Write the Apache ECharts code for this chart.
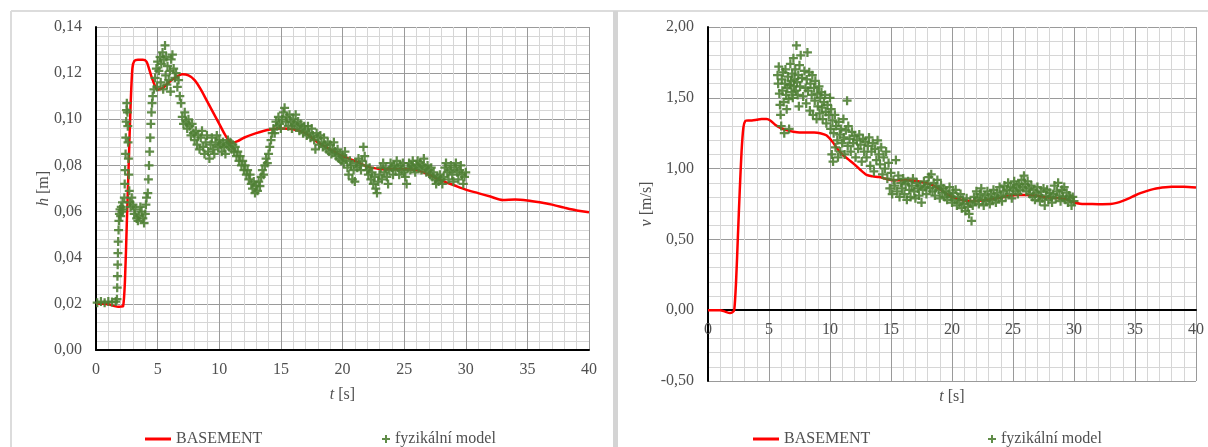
<!DOCTYPE html>
<html><head><meta charset="utf-8">
<script src="https://cdn.jsdelivr.net/npm/echarts@6/dist/echarts.min.js"></script>
<style>html,body{margin:0;padding:0;background:#fff}#c{width:1208px;height:447px}</style>
</head><body><div id="c"></div>
<script>
// ---- data: left chart (h) ----
const hModel = [[0,0.020],[0.5,0.020],[1.0,0.0198],[1.5,0.019],[1.8,0.0187],[2.0,0.0188],[2.2,0.019],[2.35,0.030],[2.5,0.055],[2.65,0.080],[2.8,0.105],[2.95,0.122],[3.1,0.1252],[3.4,0.1258],[3.8,0.1258],[4.1,0.125],[4.3,0.122],[4.6,0.117],[5.0,0.1128],[5.4,0.1135],[5.8,0.1155],[6.4,0.118],[7.0,0.1195],[7.5,0.119],[8.0,0.117],[8.5,0.113],[9.0,0.108],[9.5,0.103],[10.0,0.098],[10.5,0.093],[11.0,0.0898],[11.5,0.0905],[12.0,0.092],[13.0,0.094],[14.0,0.0955],[15.0,0.096],[16.0,0.0957],[17.0,0.094],[18.0,0.090],[19.0,0.087],[20.0,0.084],[21.0,0.082],[22.0,0.0795],[23.0,0.0785],[24.0,0.0783],[25.0,0.0783],[26.0,0.078],[27.0,0.076],[28.0,0.0735],[29.0,0.0715],[30.0,0.0695],[31.0,0.068],[32.0,0.0665],[33.0,0.065],[34.0,0.0652],[35.0,0.0648],[36.0,0.064],[37.0,0.063],[38.0,0.0617],[39.0,0.0605],[40.0,0.0597]];
const hObs = [[0.1,0.0205],[0.4,0.021],[0.7,0.0205],[1.0,0.021],[1.3,0.0208],[1.6,0.021],
[1.70,0.022],[1.72,0.027],[1.74,0.032],[1.76,0.037],[1.78,0.042],[1.80,0.047],[1.83,0.052],[1.86,0.056],[1.90,0.059],[1.95,0.061],[2.0,0.058],[2.05,0.062],[2.1,0.060],[2.15,0.064],[2.2,0.061],
[2.3,0.066],[2.33,0.072],[2.36,0.078],[2.4,0.085],[2.42,0.092],[2.45,0.099],[2.48,0.104],[2.5,0.107],[2.55,0.103],[2.58,0.097],[2.6,0.090],[2.63,0.083],[2.66,0.076],[2.7,0.069],[2.75,0.064],
[2.8,0.062],[2.9,0.066],[3.0,0.063],[3.1,0.059],[3.2,0.061],[3.3,0.057],[3.4,0.056],[3.5,0.058],[3.6,0.062],[3.7,0.060],[3.8,0.057],[3.9,0.055],[4.0,0.059],[4.05,0.063],[4.1,0.066],
[4.2,0.068],[4.25,0.074],[4.3,0.080],[4.35,0.086],[4.4,0.092],[4.45,0.098],[4.5,0.103],[4.55,0.107],[4.6,0.110],[4.7,0.113],
[4.8,0.118],[4.9,0.122],[5.0,0.125],[5.1,0.121],[5.2,0.127],[5.3,0.124],[5.4,0.129],[5.5,0.126],[5.6,0.132],[5.65,0.119],[5.7,0.127],[5.8,0.123],[5.9,0.117],[6.0,0.121],[6.1,0.126],[6.2,0.128],[6.3,0.122],[6.4,0.118],[6.5,0.120],[6.6,0.114],[6.7,0.117],[6.8,0.110],[6.9,0.107],[4.95,0.114],[5.25,0.116],[5.45,0.113],[5.75,0.115],[6.05,0.112],
[7.0,0.101],[7.1,0.098],[7.2,0.103],[7.3,0.099],[7.4,0.096],[7.5,0.100],[7.6,0.097],[7.7,0.093],[7.8,0.098],[7.9,0.094],[8.0,0.091],[8.1,0.095],[8.2,0.089],[8.3,0.093],[8.4,0.087],[8.5,0.092],[8.6,0.095],[8.7,0.088],[8.8,0.085],[8.9,0.090],[9.0,0.093],[9.1,0.086],[9.2,0.083],[9.3,0.089],[9.4,0.092],[9.5,0.087],[9.6,0.085],[9.7,0.090],[9.8,0.093],[9.9,0.088],[10.0,0.091],[10.1,0.089],[10.2,0.086],[10.3,0.090],[10.4,0.088],[10.5,0.085],[10.6,0.089],[10.7,0.091],[10.8,0.088],[10.9,0.090],[11.0,0.087],
[11.1,0.089],[11.2,0.086],[11.3,0.088],[11.4,0.084],[11.5,0.086],[11.6,0.082],[11.7,0.084],[11.8,0.080],[11.9,0.082],[12.0,0.078],[12.1,0.080],[12.2,0.076],[12.3,0.078],[12.4,0.074],[12.5,0.076],[12.6,0.072],[12.7,0.070],[12.8,0.073],[12.9,0.068],[13.0,0.071],[13.1,0.069],[13.2,0.073],[13.3,0.071],[13.4,0.075],[13.5,0.078],[13.6,0.076],[13.7,0.080],[13.8,0.083],[13.9,0.081],[14.0,0.085],[14.1,0.088],[14.2,0.091],[14.3,0.094],
[14.4,0.096],[14.5,0.094],[14.6,0.099],[14.7,0.097],[14.8,0.101],[14.9,0.098],[15.0,0.096],[15.1,0.100],[15.2,0.103],[15.3,0.105],[15.4,0.099],[15.5,0.101],[15.6,0.097],[15.7,0.102],[15.8,0.099],[15.9,0.096],[16.0,0.100],[16.1,0.098],[16.2,0.102],[16.3,0.097],[16.4,0.099],[16.5,0.095],[16.6,0.098],[16.7,0.096],[16.8,0.094],[16.9,0.097],[17.0,0.095],
[17.1,0.093],[17.2,0.097],[17.3,0.094],[17.4,0.092],[17.5,0.096],[17.6,0.093],[17.7,0.091],[17.8,0.087],[17.9,0.094],[18.0,0.092],[18.1,0.089],[18.2,0.093],[18.3,0.090],[18.4,0.088],[18.5,0.092],[18.6,0.089],[18.7,0.087],[18.8,0.090],[18.9,0.086],[19.0,0.089],[19.1,0.085],[19.2,0.087],[19.3,0.090],[19.4,0.086],[19.5,0.084],[19.6,0.087],[19.7,0.083],[19.8,0.085],[19.9,0.082],[20.0,0.084],
[20.1,0.081],[20.2,0.086],[20.3,0.083],[20.4,0.079],[20.5,0.076],[20.6,0.082],[20.7,0.080],[20.8,0.074],[20.9,0.078],[21.0,0.073],[21.1,0.081],[21.2,0.079],[21.3,0.083],[21.4,0.080],[21.5,0.078],[21.6,0.082],[21.7,0.088],[21.8,0.084],[21.9,0.080],[22.0,0.078],[22.1,0.076],[22.2,0.079],[22.3,0.074],[22.4,0.077],[22.5,0.072],[22.6,0.075],[22.7,0.070],[22.8,0.068],[22.9,0.073],[23.0,0.076],
[23.1,0.079],[23.2,0.074],[23.3,0.081],[23.4,0.077],[23.5,0.079],[23.6,0.075],[23.7,0.072],[23.8,0.078],[23.9,0.081],[24.0,0.079],[24.1,0.076],[24.2,0.080],[24.3,0.078],[24.4,0.082],[24.5,0.079],[24.6,0.076],[24.7,0.080],[24.8,0.078],[24.9,0.081],[25.0,0.077],[25.1,0.075],[25.2,0.072],[25.3,0.079],[25.4,0.081],[25.5,0.078],[25.6,0.080],[25.7,0.082],[25.8,0.079],[25.9,0.077],[26.0,0.080],[26.1,0.082],[26.2,0.079],[26.3,0.081],[26.4,0.078],[26.5,0.080],[26.6,0.083],[26.7,0.079],[26.8,0.077],[26.9,0.080],[27.0,0.078],
[27.1,0.076],[27.2,0.079],[27.3,0.075],[27.4,0.077],[27.5,0.074],[27.6,0.072],[27.7,0.075],[27.8,0.073],[27.9,0.076],[28.0,0.074],[28.1,0.072],[28.2,0.075],[28.3,0.079],[28.4,0.081],[28.5,0.077],[28.6,0.074],[28.7,0.078],[28.8,0.080],[28.9,0.076],[29.0,0.073],[29.1,0.079],[29.2,0.081],[29.3,0.077],[29.4,0.074],[29.5,0.078],[29.6,0.080],[29.7,0.076],[29.8,0.072],[29.9,0.075],[30.0,0.077]];

// ---- data: right chart (v) ----
const vModel = [[0,0],[0.5,0],[1.0,0],[1.4,-0.01],[1.8,-0.02],[2.0,-0.015],[2.15,0.0],[2.3,0.2],[2.45,0.52],[2.6,0.84],[2.75,1.12],[2.9,1.29],[3.05,1.335],[3.3,1.34],[3.6,1.34],[4.0,1.345],[4.4,1.35],[4.8,1.35],[5.1,1.34],[5.5,1.31],[6.0,1.285],[6.5,1.27],[7.0,1.26],[7.5,1.255],[8.0,1.255],[8.7,1.255],[9.2,1.25],[9.7,1.235],[10.2,1.19],[10.6,1.14],[11.0,1.10],[11.5,1.065],[12.0,1.03],[12.5,0.99],[13.0,0.955],[13.5,0.945],[14.0,0.94],[14.5,0.93],[15.0,0.92],[15.7,0.918],[16.3,0.918],[17.0,0.915],[17.5,0.905],[18.0,0.895],[18.5,0.88],[19.0,0.855],[19.5,0.825],[20.0,0.80],[20.5,0.785],[21.0,0.775],[21.5,0.772],[22.0,0.772],[22.5,0.775],[23.0,0.78],[23.5,0.788],[24.0,0.795],[24.5,0.805],[25.0,0.812],[25.5,0.813],[26.0,0.813],[26.5,0.812],[27.0,0.808],[27.5,0.80],[28.0,0.796],[28.5,0.793],[29.0,0.789],[29.5,0.78],[30.0,0.762],[30.5,0.752],[31.0,0.75],[32.0,0.749],[33.0,0.75],[33.5,0.758],[34.0,0.772],[34.5,0.79],[35.0,0.81],[35.5,0.828],[36.0,0.843],[36.5,0.855],[37.0,0.863],[37.5,0.868],[38.0,0.871],[39.0,0.871],[40.0,0.866]];
const vObs = [[5.7,1.66],[5.75,1.60],[5.8,1.72],[5.85,1.53],[5.9,1.45],[5.95,1.38],[6.0,1.30],[6.05,1.63],[6.1,1.55],[6.15,1.68],[6.2,1.47],[6.25,1.25],[6.3,1.60],[6.35,1.70],[6.4,1.52],[6.45,1.42],[6.5,1.57],[6.55,1.65],[6.6,1.49],[6.65,1.28],[6.7,1.59],[6.75,1.74],[6.8,1.62],[6.85,1.54],[6.9,1.67],[6.95,1.50],[7.0,1.78],[7.05,1.58],[7.1,1.63],[7.15,1.70],[7.2,1.55],[7.25,1.87],[7.3,1.61],[7.35,1.52],[7.4,1.66],[7.45,1.44],[7.5,1.73],[7.55,1.58],
[7.6,1.80],[7.7,1.64],[7.8,1.51],[7.9,1.69],[8.0,1.57],[8.05,1.46],[8.1,1.63],[8.15,1.82],[8.2,1.55],[8.3,1.68],[8.35,1.41],[8.4,1.60],[8.5,1.52],[8.55,1.66],[8.6,1.38],[8.7,1.57],[8.75,1.48],[8.8,1.62],[8.9,1.35],[8.95,1.53],[9.0,1.44],[9.1,1.58],[9.15,1.39],[9.2,1.50],[9.3,1.54],[9.35,1.43],[9.4,1.35],[9.5,1.47],[9.6,1.52],[9.65,1.40],[9.7,1.32],[9.8,1.45],[9.9,1.38],[10.0,1.50],[10.05,1.28],
[10.1,1.42],[10.15,1.10],[10.2,1.34],[10.25,1.05],[10.3,1.25],[10.4,1.38],[10.45,1.15],[10.5,1.30],[10.6,1.20],[10.65,1.08],[10.7,1.33],[10.8,1.24],[10.85,1.12],[10.9,1.28],[11.0,1.18],[11.1,1.35],[11.15,1.22],[11.2,1.10],[11.3,1.27],[11.4,1.48],[11.45,1.16],[11.5,1.30],[11.6,1.21],[11.7,1.12],[11.8,1.26],[11.9,1.18],[12.0,1.23],[12.1,1.08],[12.2,1.20],[12.3,1.14],[12.4,1.24],[12.5,1.17],[12.6,1.05],[12.7,1.21],[12.8,1.12],[12.9,1.19],[13.0,1.08],
[13.1,1.16],[13.2,1.22],[13.3,1.02],[13.4,1.12],[13.5,1.18],[13.6,0.98],[13.7,1.14],[13.8,1.06],[13.9,1.20],[14.0,1.10],[14.1,1.03],[14.2,1.15],[14.3,0.96],[14.4,1.08],[14.5,1.00],[14.6,1.12],[14.7,0.93],[14.8,1.04],[14.9,0.86],[15.0,0.97],[15.1,0.82],[15.2,0.92],[15.3,0.88],[15.4,1.06],[15.5,0.84],[15.6,0.95],[15.7,0.80],[15.8,0.90],[15.9,0.86],[16.0,0.93],
[16.1,0.82],[16.2,0.89],[16.3,0.78],[16.4,0.91],[16.5,0.85],[16.6,0.80],[16.7,0.88],[16.8,0.93],[16.9,0.84],[17.0,0.79],[17.1,0.90],[17.2,0.86],[17.3,0.81],[17.4,0.88],[17.5,0.76],[17.6,0.85],[17.7,0.91],[17.8,0.87],[17.9,0.82],[18.0,0.89],[18.1,0.94],[18.2,0.86],[18.3,0.96],[18.4,0.84],[18.5,0.90],[18.6,0.81],[18.7,0.87],[18.8,0.92],[18.9,0.85],[19.0,0.79],[19.1,0.88],[19.2,0.83],[19.3,0.86],[19.4,0.80],[19.5,0.84],[19.6,0.78],[19.7,0.82],[19.8,0.87],[19.9,0.80],[20.0,0.76],
[20.1,0.83],[20.2,0.78],[20.3,0.85],[20.4,0.74],[20.5,0.80],[20.6,0.76],[20.7,0.82],[20.8,0.72],[20.9,0.78],[21.0,0.75],[21.1,0.70],[21.2,0.79],[21.3,0.73],[21.4,0.68],[21.5,0.76],[21.6,0.63],[21.7,0.74],[21.8,0.80],[21.9,0.77],[22.0,0.84],[22.1,0.79],[22.2,0.75],[22.3,0.82],[22.4,0.86],[22.5,0.78],[22.6,0.74],[22.7,0.81],[22.8,0.77],[22.9,0.84],[23.0,0.79],
[23.1,0.75],[23.2,0.82],[23.3,0.78],[23.4,0.85],[23.5,0.80],[23.6,0.76],[23.7,0.83],[23.8,0.79],[23.9,0.87],[24.0,0.81],[24.1,0.77],[24.2,0.84],[24.3,0.88],[24.4,0.80],[24.5,0.85],[24.6,0.90],[24.7,0.82],[24.8,0.87],[24.9,0.79],[25.0,0.86],[25.1,0.91],[25.2,0.84],[25.3,0.88],[25.4,0.82],[25.5,0.89],[25.6,0.85],[25.7,0.92],[25.8,0.87],[25.9,0.95],[26.0,0.89],
[26.1,0.84],[26.2,0.91],[26.3,0.86],[26.4,0.82],[26.5,0.88],[26.6,0.80],[26.7,0.85],[26.8,0.78],[26.9,0.83],[27.0,0.87],[27.1,0.81],[27.2,0.77],[27.3,0.84],[27.4,0.79],[27.5,0.86],[27.6,0.74],[27.7,0.81],[27.8,0.85],[27.9,0.78],[28.0,0.83],[28.1,0.80],[28.2,0.76],[28.3,0.82],[28.4,0.88],[28.5,0.79],[28.6,0.84],[28.7,0.90],[28.8,0.81],[28.9,0.77],[29.0,0.85],[29.1,0.80],[29.2,0.87],[29.3,0.78],[29.4,0.83],[29.5,0.76],[29.6,0.81],[29.7,0.79],[29.8,0.74],[29.9,0.80],[30.0,0.77]];

const seriesNames = ['BASEMENT', 'fyzikální model'];

// ---- styles ----
const FONT = 'Liberation Serif';
const TXT = '#505050';
const RED = '#ff0000';
const GREEN = '#4f8034';
const PLUS = 'path://M3,0h2v3h3v2h-3v3h-2v-3h-3v-2h3z';
const fmt = v => v.toFixed(2).replace('.', ',');

function xAxis(gi, nameGap, offset) {
  return {
    type: 'value', gridIndex: gi, min: 0, max: 40, interval: 5, position: 'bottom', offset: offset,
    name: '{i|t} [s]', nameLocation: 'middle', nameGap: nameGap, nameMoveOverlap: false,
    nameTextStyle: { fontFamily: FONT, fontSize: 16, color: TXT,
      rich: { i: { fontFamily: FONT, fontSize: 16, fontStyle: 'italic', color: TXT } } },
    axisLine: { show: true, onZero: false, lineStyle: { color: '#000', width: 2 } },
    axisTick: { show: false },
    axisLabel: { fontFamily: FONT, fontSize: 16, color: TXT, margin: 12 },
    splitLine: { show: true, lineStyle: { color: '#9a9a9a', width: 1 } },
    minorTick: { show: false, splitNumber: 5 },
    minorSplitLine: { show: true, lineStyle: { color: '#d6d6d6', width: 1 } }
  };
}
function yAxis(gi, min, max, interval, name, nameGap) {
  return {
    type: 'value', gridIndex: gi, min: min, max: max, interval: interval,
    name: name, nameLocation: 'middle', nameGap: nameGap, nameMoveOverlap: false,
    nameTextStyle: { fontFamily: FONT, fontSize: 16, color: TXT,
      rich: { i: { fontFamily: FONT, fontSize: 16, fontStyle: 'italic', color: TXT } } },
    axisLine: { show: true, onZero: false, lineStyle: { color: '#000', width: 2 } },
    axisTick: { show: false },
    axisLabel: { fontFamily: FONT, fontSize: 16, color: TXT, margin: 14, formatter: fmt },
    splitLine: { show: true, lineStyle: { color: '#9a9a9a', width: 1 } },
    minorTick: { show: false, splitNumber: 5 },
    minorSplitLine: { show: true, lineStyle: { color: '#d6d6d6', width: 1 } }
  };
}
function legends(lineLeft, plusLeft) {
  const ts = { fontFamily: FONT, fontSize: 16, color: TXT };
  return [
    { left: lineLeft, top: 426, itemWidth: 26, itemHeight: 3, textStyle: ts,
      data: [{ name: seriesNames[0], icon: 'rect' }], selectedMode: false },
    { left: plusLeft, top: 426, itemWidth: 8, itemHeight: 8, textStyle: ts,
      data: [{ name: seriesNames[1], icon: PLUS }], selectedMode: false }
  ];
}
function lineSeries(gi, data) {
  return { name: seriesNames[0], type: 'line', xAxisIndex: gi, yAxisIndex: gi, data: data,
    showSymbol: false, symbol: 'none', smooth: 0.25, lineStyle: { color: RED, width: 2.5 },
    itemStyle: { color: RED }, animation: false, z: 3 };
}
function scatterSeries(gi, data) {
  return { name: seriesNames[1], type: 'scatter', xAxisIndex: gi, yAxisIndex: gi, data: data,
    symbol: PLUS, symbolSize: 9, itemStyle: { color: GREEN, opacity: 0.9 }, animation: false, z: 4 };
}

const chart = echarts.init(document.getElementById('c'), null, { renderer: 'canvas' });
chart.setOption({
  backgroundColor: '#fff',
  animation: false,
  graphic: [
    { type: 'line', shape: { x1: 11, y1: 11, x2: 1208, y2: 11 }, style: { stroke: '#dcdcdc', lineWidth: 2 }, silent: true },
    { type: 'line', shape: { x1: 11, y1: 11, x2: 11, y2: 447 }, style: { stroke: '#dcdcdc', lineWidth: 2 }, silent: true },
    { type: 'rect', shape: { x: 613, y: 11, width: 5, height: 436 }, style: { fill: '#d4d4d4' }, silent: true }
  ],
  grid: [
    { left: 96, top: 27, width: 493, height: 323, outerBoundsMode: 'none' },
    { left: 708, top: 27, width: 488, height: 354, outerBoundsMode: 'none' }
  ],
  // right chart: axis line / labels sit on v = 0 (0.5 of 2.5 range of 354 px above the bottom)
  xAxis: [xAxis(0, 37, 0), xAxis(1, 79, -70.8)],
  yAxis: [
    yAxis(0, 0, 0.14, 0.02, '{i|h} [m]', 44),
    yAxis(1, -0.5, 2, 0.5, '{i|v} [m/s]', 53)
  ],
  legend: legends(140, 377).concat(legends(748, 983)),
  series: [lineSeries(0, hModel), scatterSeries(0, hObs), lineSeries(1, vModel), scatterSeries(1, vObs)]
});
</script>
</body></html>
